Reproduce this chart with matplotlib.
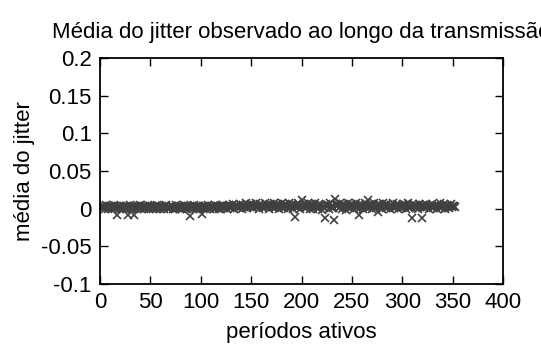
import matplotlib
matplotlib.use("Agg")
import matplotlib.pyplot as plt

plt.rcParams['font.family'] = ['Liberation Sans', 'DejaVu Sans']
plt.rcParams['axes.unicode_minus'] = False

# mean jitter per active period, in thousandths
jitter_milli = [
    2, 4, 1, 3, 0, 5, 2, -1, 3, 1, 4, 0, 2, 5, 1, 3, -9, 2, 4, 0, 3, 1, -1, 4, 2,
    0, 3, -9, 2, 5, 1, -1, 3, -8, 4, 2, 0, 3, 1, 5, -1, 2, 4, 0, 3, 1, 2, 5, -1, 3,
    1, 4, 0, 2, 3, -1, 5, 1, 3, 0, 2, 4, 1, -1, 3, 5, 0, 2, 1, 4, 3, -1, 2, 0, 5,
    2, 1, 3, -1, 4, 0, 2, 5, 1, 3, 0, 4, 2, -10, 1, 3, 0, 5, 2, -1, 4, 1, 3, 0, 2,
    -7, 3, 1, 4, 0, 2, 5, 1, -1, 3, 2, 4, 0, 5, 1, 3, 2, -1, 4, 0, 3, 5, 1, 2, 4,
    0, 3, 5, 1, 4, 2, 6, 0, 3, 5, 2, 4, 1, 6, 3, 0, 5, 2, 4, 7, 1, 3, 5, 2, 6,
    4, 1, 5, 3, 7, 2, 4, 0, 6, 3, 5, 1, 4, 7, 2, 5, 3, 0, 6, 4, 2, 5, 8, 1, 4,
    6, 3, 0, 5, 2, 7, 4, 1, 6, 3, 5, 0, 7, 2, 4, 6, -1, 3, -11, 5, 2, 7, 4, 0, 12,
    3, 6, 1, 5, 2, 8, 4, 0, 6, 3, -1, 5, 7, 2, 4, 0, 6, 3, 5, -2, 4, 1, -12, 6, 3,
    5, 0, 7, 2, 4, 1, -15, 13, 6, 3, 5, 1, 7, 4, 0, 6, 2, 5, -2, 4, 7, 1, 3, 6, 2,
    5, 0, 4, 7, 1, 3, -8, 6, 2, 5, 0, 4, 7, 3, 1, 11, 5, 2, 6, 0, 4, 7, 3, 1, 5,
    -4, 6, 2, 4, 0, 7, 3, 5, 1, 6, 2, 4, 0, 5, 3, 7, 1, 4, 2, 6, 0, 5, 3, 1, 4,
    6, 2, 5, 0, 3, 7, 1, 4, 2, -12, 6, 3, 5, 1, 4, 0, 6, 2, 3, -13, 5, 1, 4, 6, 2,
    3, 0, 5, 2, 6, 1, 4, 3, 0, 5, 2, 7, 1, 4, 3, 6, 0, 2, 5, 3, 1, 4, 6, 2, 3,
    4, 2,
]
periods = list(range(1, len(jitter_milli) + 1))
jitter = [v / 1000 for v in jitter_milli]

x_ticks = [0, 50, 100, 150, 200, 250, 300, 350, 400]
y_ticks = [-0.1, -0.05, 0, 0.05, 0.1, 0.15, 0.2]
y_tick_labels = ['-0.1', '-0.05', '0', '0.05', '0.1', '0.15', '0.2']

fig = plt.figure(figsize=(5.41, 3.55), dpi=100)
ax = fig.add_axes([100 / 541, 71 / 355, 403 / 541, 226 / 355])

ax.plot(periods, jitter, linestyle='none', marker='x', markersize=6,
        markeredgewidth=1.2, color='#404040')

ax.set_xlim(0, 400)
ax.set_ylim(-0.1, 0.2)
ax.set_xticks(x_ticks)
ax.set_xticklabels([str(t) for t in x_ticks])
ax.set_yticks(y_ticks)
ax.set_yticklabels(y_tick_labels)
ax.tick_params(direction='in', top=True, right=True, length=6, width=1,
               labelsize=16, pad=6)
for s in ax.spines.values():
    s.set_linewidth(1.3)

ax.set_xlabel('períodos ativos', fontsize=16, labelpad=6)
ax.set_ylabel('média do jitter', fontsize=16, labelpad=4)
fig.text(301 / 541, 1 - 38 / 355, 'Média do jitter observado ao longo da transmissão',
         ha='center', va='baseline', fontsize=16)

fig.savefig('out.png', dpi=100)
